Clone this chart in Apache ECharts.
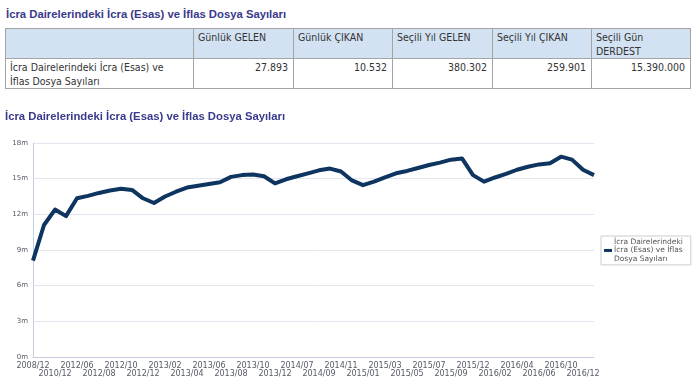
<!DOCTYPE html>
<html>
<head>
<meta charset="utf-8">
<script src="https://cdn.jsdelivr.net/npm/echarts@6/dist/echarts.min.js"></script>
<style>
  html, body { margin: 0; padding: 0; background: #fff; width: 700px; height: 392px; overflow: hidden; }
  #title1 { position: absolute; left: 6px; top: 8px; font-family: "Liberation Sans", Arial, sans-serif; font-weight: bold; font-size: 11.3px; color: #3a3a8c; white-space: nowrap; }
  #tbl { position: absolute; left: 5px; top: 28px; border-collapse: collapse; table-layout: fixed; font-family: "DejaVu Sans Condensed", "DejaVu Sans", sans-serif; font-stretch: condensed; font-size: 10.5px; line-height: 14px; color: #333; }
  #tbl td { border: 1px solid #a4a4a4; padding: 1px 4px 0 4px; vertical-align: top; }
  #tbl tr.head td { background: #d3e2f2; height: 27px; }
  #tbl tr.body td { height: 27px; }
  #tbl td.num { text-align: right; padding-right: 5px; }
  #chart { position: absolute; left: 0; top: 100px; width: 700px; height: 292px; }
</style>
</head>
<body>
<div id="title1">İcra Dairelerindeki İcra (Esas) ve İflas Dosya Sayıları</div>
<table id="tbl">
  <colgroup>
    <col style="width:188px"><col style="width:100px"><col style="width:99px"><col style="width:100px"><col style="width:99px"><col style="width:99px">
  </colgroup>
  <tr class="head">
    <td></td>
    <td>Günlük GELEN</td>
    <td>Günlük ÇIKAN</td>
    <td>Seçili Yıl GELEN</td>
    <td>Seçili Yıl ÇIKAN</td>
    <td>Seçili Gün<br>DERDEST</td>
  </tr>
  <tr class="body">
    <td>İcra Dairelerindeki İcra (Esas) ve<br>İflas Dosya Sayıları</td>
    <td class="num">27.893</td>
    <td class="num">10.532</td>
    <td class="num">380.302</td>
    <td class="num">259.901</td>
    <td class="num">15.390.000</td>
  </tr>
</table>
<div id="chart"></div>
<script>
// Categories (x axis); every other label is shown, alternating in two rows
const categories = [
  "2008/12","2009/12","2010/12","2011/12","2012/06","2012/07","2012/08","2012/09","2012/10","2012/11",
  "2012/12","2013/01","2013/02","2013/03","2013/04","2013/05","2013/06","2013/07","2013/08","2013/09",
  "2013/10","2013/11","2013/12","2014/06","2014/07","2014/08","2014/09","2014/10","2014/11","2014/12",
  "2015/01","2015/02","2015/03","2015/04","2015/05","2015/06","2015/07","2015/08","2015/09","2015/10",
  "2015/12","2016/01","2016/02","2016/03","2016/04","2016/05","2016/06","2016/08","2016/10","2016/11",
  "2016/12","2017/01"
];
// Pending file counts, in millions
const valuesMillions = [
  8.1, 11.1, 12.4, 11.85, 13.35, 13.55, 13.8, 14.0, 14.15, 14.05,
  13.35, 12.95, 13.5, 13.9, 14.25, 14.4, 14.55, 14.7, 15.15, 15.3,
  15.35, 15.2, 14.6, 14.95, 15.2, 15.45, 15.7, 15.85, 15.6, 14.85,
  14.45, 14.75, 15.1, 15.45, 15.65, 15.9, 16.15, 16.35, 16.6, 16.7,
  15.3, 14.75, 15.1, 15.4, 15.75, 16.0, 16.2, 16.3, 16.85, 16.6,
  15.75, 15.3
];
const seriesName = "İcra Dairelerindeki İcra (Esas) ve İflas Dosya Sayıları";
const legendLines = ["İcra Dairelerindeki", "İcra (Esas) ve İflas", "Dosya Sayıları"];
const yMin = 0, yMax = 18, yInterval = 3;

const labelFont = {
  fontFamily: '"DejaVu Sans", sans-serif',
  fontSize: 8,
  lineHeight: 8,
  color: '#555a66'
};

const chart = echarts.init(document.getElementById('chart'), null, { renderer: 'canvas' });
chart.setOption({
  animation: false,
  title: {
    text: seriesName,
    left: 5, top: 11, padding: 0,
    textStyle: { fontFamily: '"Liberation Sans", Arial, sans-serif', fontWeight: 'bold', fontSize: 11.3, color: '#3a3a8c' }
  },
  grid: { left: 33, right: 106, top: 43, bottom: 35, containLabel: false },
  legend: {
    orient: 'vertical',
    left: 601, top: 136,
    padding: [2, 8, 2, 3],
    borderColor: '#cccccc', borderWidth: 1, borderRadius: 0,
    itemWidth: 8, itemHeight: 3,
    icon: 'rect',
    formatter: () => legendLines.join('\n'),
    textStyle: { fontFamily: '"DejaVu Sans", sans-serif', fontSize: 7.5, lineHeight: 8.3, color: '#555', padding: [0, 0, 0, -3] },
    data: [seriesName]
  },
  xAxis: [{
    type: 'category',
    data: categories,
    boundaryGap: false,
    position: 'bottom',
    axisLine: { show: true, lineStyle: { color: '#c6cbe0', width: 1 } },
    axisTick: { show: false },
    splitLine: { show: false },
    axisLabel: Object.assign({
      interval: (idx) => idx % 4 === 0,
      hideOverlap: false,
      margin: 5
    }, labelFont)
  }, {
    type: 'category',
    data: categories,
    boundaryGap: false,
    position: 'bottom',
    offset: 8,
    axisLine: { show: false },
    axisTick: { show: false },
    splitLine: { show: false },
    axisLabel: Object.assign({
      interval: (idx) => idx % 4 === 2,
      hideOverlap: false,
      margin: 5
    }, labelFont)
  }],
  yAxis: {
    type: 'value',
    min: yMin, max: yMax, interval: yInterval,
    axisLine: { show: true, lineStyle: { color: '#c6cbe0', width: 1 } },
    axisTick: { show: false },
    splitLine: { show: true, lineStyle: { color: '#e4e5ef', width: 1 } },
    axisLabel: {
      margin: 5,
      fontFamily: '"DejaVu Sans", sans-serif',
      fontSize: 7,
      color: '#555a66',
      formatter: v => v + 'm'
    }
  },
  series: [{
    name: seriesName,
    type: 'line',
    xAxisIndex: 0,
    data: valuesMillions,
    showSymbol: false,
    symbol: 'none',
    smooth: false,
    lineStyle: { color: '#0e355f', width: 4, join: 'round' },
    itemStyle: { color: '#0e355f' }
  }]
});
</script>
</body>
</html>
